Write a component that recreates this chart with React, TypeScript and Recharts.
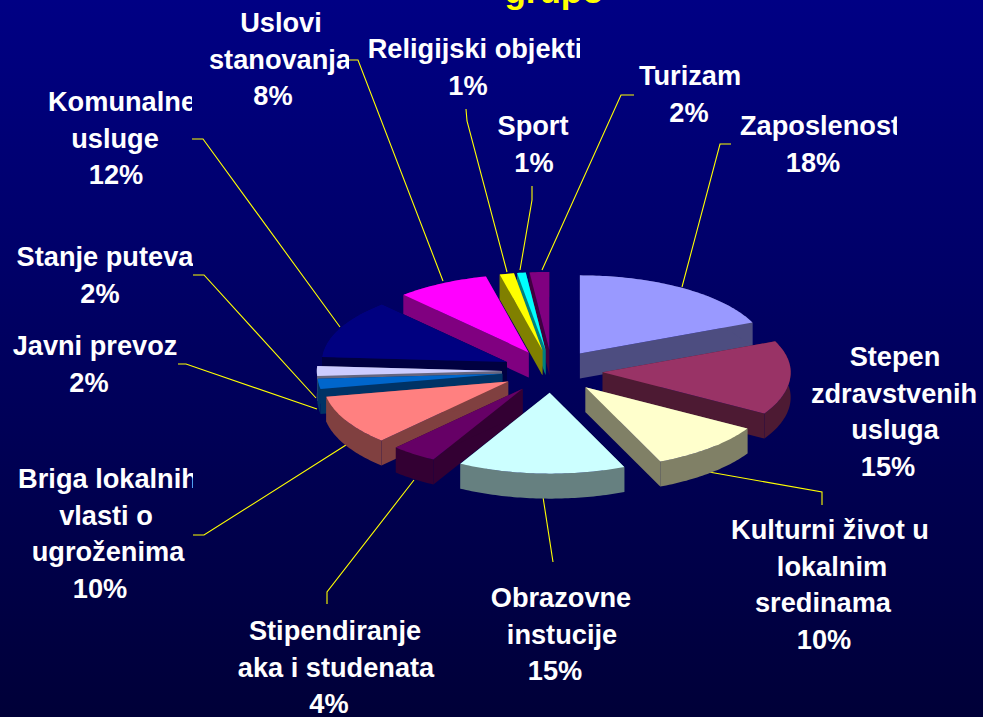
import React from "react";
import { Pie, PieChart } from "recharts";

const WIDTH = 983;
const HEIGHT = 717;

const categories = [
  "Zaposlenost",
  "Stepen zdravstvenih usluga",
  "Kulturni život u lokalnim sredinama",
  "Obrazovne instucije",
  "Stipendiranje aka i studenata",
  "Briga lokalnih vlasti o ugroženima",
  "Javni prevoz",
  "Stanje puteva",
  "Komunalne usluge",
  "Uslovi stanovanja",
  "Religijski objekti",
  "Sport",
  "Turizam",
];
// unrounded shares, the labels show them rounded
const shares = [18.5, 15, 10, 14.5, 4, 10, 2, 2, 12.2, 8.1, 1.25, 0.75, 1.7];
const topColors = [
  "#9999ff", "#993366", "#ffffcc", "#ccffff", "#660066", "#ff8080", "#0066cc",
  "#ccccff", "#000080", "#ff00ff", "#ffff00", "#00ffff", "#800080",
];
const sideColors = [
  "#4d4d80", "#4d1a33", "#808066", "#668080", "#330033", "#804040", "#003366",
  "#666680", "#000040", "#800080", "#808000", "#008080", "#400040",
];

// back to front, so nearer slices cover the walls behind them
const paintOrder = [12, 11, 10, 9, 0, 8, 1, 7, 6, 2, 5, 4, 3];

// label layout: first line y, right clip edge, then [text, centre x] per line
const labelLayout: { y: number; clip: number; lines: [string, number][] }[] = [
  { y: 126, clip: 897, lines: [["Zaposlenost", 820], ["18%", 813]] },
  { y: 357, clip: 983, lines: [["Stepen", 895], ["zdravstvenih", 894], ["usluga", 895], ["15%", 888]] },
  { y: 530, clip: 929, lines: [["Kulturni život u", 830], ["lokalnim", 832], ["sredinama", 823], ["10%", 824]] },
  { y: 598, clip: 983, lines: [["Obrazovne", 561], ["instucije", 562], ["15%", 555]] },
  { y: 631, clip: 983, lines: [["Stipendiranje", 335], ["aka i studenata", 336], ["4%", 329]] },
  { y: 479, clip: 193, lines: [["Briga lokalnih", 108], ["vlasti o", 106], ["ugroženima", 108], ["10%", 100]] },
  { y: 346, clip: 178, lines: [["Javni prevoz", 95], ["2%", 89]] },
  { y: 257, clip: 193, lines: [["Stanje puteva", 105], ["2%", 100]] },
  { y: 102, clip: 192, lines: [["Komunalne", 122], ["usluge", 115], ["12%", 116]] },
  { y: 23, clip: 349, lines: [["Uslovi", 281], ["stanovanja", 280], ["8%", 273]] },
  { y: 49, clip: 580, lines: [["Religijski objekti", 475], ["1%", 468]] },
  { y: 126, clip: 983, lines: [["Sport", 533], ["1%", 534]] },
  { y: 76, clip: 983, lines: [["Turizam", 690], ["2%", 689]] },
];

const leaderLines = [
  "731,144 720,144 682,287",
  "709,472 822,492 822,505",
  "543,497 553,562",
  "414,480 327,592 327,604",
  "346,445 204,535 193,535",
  "317,409 186,364 178,364",
  "316,398 204,275 193,275",
  "340,327 203,139 192,139",
  "443,281 358,60 349,60",
  "507,272 467,121 466,109",
  "520,270 532,200 532,186",
  "542,270 621,95 634,95",
];

const rows = categories.map((name, i) => ({ name, value: shares[i], fill: topColors[i] }));

const TILT_BACK = 0.415;
const TILT_FRONT = 0.43;
const LEFT_SQUEEZE = 0.985;
const EXPLODE = 0.27;
const DEPTH = 25;

function Wedge(props: any) {
  const { cx, cy, outerRadius: R, startAngle, endAngle, midAngle, index } = props;
  const rad = (a: number) => (a * Math.PI) / 180;
  // plane point to screen, the near half of the disc is a bit less foreshortened
  const project = (a: number, r: number, drop = 0): [number, number] => {
    const u = R * EXPLODE * Math.cos(rad(midAngle)) + r * Math.cos(rad(a));
    const v = R * EXPLODE * Math.sin(rad(midAngle)) + r * Math.sin(rad(a));
    return [cx + (u < 0 ? u * LEFT_SQUEEZE : u), cy - v * (v > 0 ? TILT_BACK : TILT_FRONT) + drop];
  };
  const arc: number[] = [];
  const steps = Math.max(2, Math.ceil(Math.abs(endAngle - startAngle)));
  for (let i = 0; i <= steps; i++) {
    arc.push(startAngle + ((endAngle - startAngle) * i) / steps);
  }
  const pts = (list: [number, number][]) => list.map((p) => p.join(",")).join(" ");
  const apex = project(0, 0);
  const apexLow = project(0, 0, DEPTH);
  const rim = arc.map((a) => project(a, R));
  const rimLow = arc.map((a) => project(a, R, DEPTH));
  const side = sideColors[index];
  return (
    <g>
      <polygon points={pts([apex, rim[0], rimLow[0], apexLow])} fill={side} />
      <polygon points={pts([apex, rim[steps], rimLow[steps], apexLow])} fill={side} />
      <polygon points={pts([...rim, ...[...rimLow].reverse()])} fill={side} />
      <polygon points={pts([apex, ...rim])} fill={topColors[index]} />
    </g>
  );
}

function Labels() {
  return (
    <g fontFamily="'Liberation Sans', Arial, sans-serif" fontWeight="bold" fontSize={27.2} fill="#ffffff" textAnchor="middle">
      <defs>
        {labelLayout.map((l, i) => (
          <clipPath id={`label-clip-${i}`} key={i}>
            <rect x={0} y={0} width={l.clip} height={HEIGHT} />
          </clipPath>
        ))}
      </defs>
      {labelLayout.map((l, i) => (
        <g key={i} clipPath={`url(#label-clip-${i})`}>
          {l.lines.map(([line, x], j) => (
            <text key={j} x={x} y={l.y + j * 36.7 + 9}>
              {line}
            </text>
          ))}
        </g>
      ))}
      <text x={554} y={3} fill="#ffff00" fontSize={35}>
        grupo
      </text>
    </g>
  );
}

export default function App() {
  return (
    <div
      style={{
        position: "absolute",
        left: 0,
        top: 0,
        width: WIDTH,
        height: HEIGHT,
        overflow: "hidden",
        background: "linear-gradient(#000084, #000038)",
      }}
    >
      <PieChart width={WIDTH} height={HEIGHT} margin={{ top: 0, right: 0, bottom: 0, left: 0 }}>
        <g fill="none" stroke="#ffff00" strokeWidth={1.1}>
          {leaderLines.map((points, i) => (
            <polyline key={i} points={points} />
          ))}
        </g>
        {paintOrder.map((slice) => (
          <Pie
            key={slice}
            data={rows}
            dataKey="value"
            nameKey="name"
            cx={552}
            cy={371}
            outerRadius={188}
            startAngle={90}
            endAngle={-270}
            stroke="none"
            isAnimationActive={false}
            shape={(props: any) => (props.index === slice ? <Wedge {...props} /> : <g />)}
          />
        ))}
        <Labels />
      </PieChart>
    </div>
  );
}
